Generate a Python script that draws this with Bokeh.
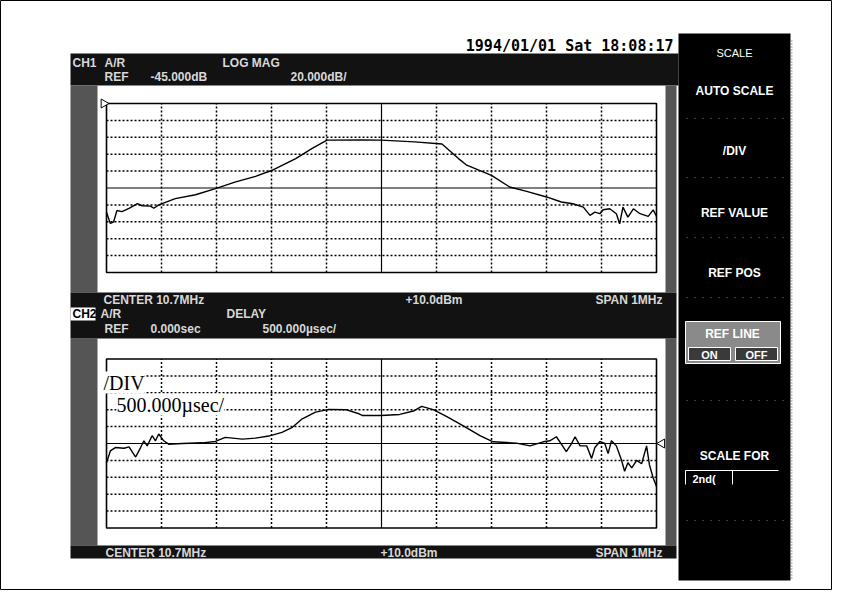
import math
from bokeh.plotting import figure
from bokeh.models import Range1d, Label
from bokeh.embed import file_html
from bokeh.resources import INLINE

# ---------------- data (in screen divisions) ----------------
# CH1 : LOG MAG trace, x in divisions 0..10, y in divisions from reference line
UPPER_X = [0.0, 0.07, 0.13, 0.19, 0.28, 0.41, 0.56, 0.65, 0.80, 0.86, 0.95, 1.25, 1.62,
           1.98, 2.35, 2.71, 3.01, 3.44, 3.74, 4.01, 4.65, 5.0, 5.6, 6.1, 6.4, 6.55, 7.0,
           7.33, 7.64, 8.0, 8.27, 8.48, 8.67, 8.79, 8.88, 8.97, 9.03, 9.15, 9.27, 9.33,
           9.39, 9.48, 9.58, 9.7, 9.85, 9.94, 10.0]
UPPER_Y = [-1.43, -2.1, -2.0, -1.33, -1.4, -1.2, -0.93, -1.05, -1.07, -1.2, -1.0, -0.63,
           -0.4, -0.04, 0.36, 0.69, 1.05, 1.74, 2.34, 2.83, 2.85, 2.83, 2.73, 2.6, 1.74,
           1.35, 0.75, 0.06, -0.2, -0.53, -0.83, -0.93, -1.13, -1.62, -1.43, -1.52, -1.29,
           -1.23, -1.52, -2.12, -1.13, -1.72, -1.23, -1.52, -1.68, -1.29, -1.68]

# CH2 : DELAY trace
LOWER_X = [0.0, 0.07, 0.16, 0.32, 0.41, 0.53, 0.62, 0.68, 0.74, 0.83, 0.89, 0.95, 1.04,
           1.13, 1.38, 1.74, 1.98, 2.16, 2.47, 2.71, 2.95, 3.19, 3.38, 3.56, 3.8, 4.04,
           4.35, 4.59, 4.65, 5.0, 5.33, 5.58, 5.73, 5.94, 6.18, 6.48, 6.79, 7.03, 7.27,
           7.45, 7.7, 7.94, 8.06, 8.18, 8.27, 8.36, 8.45, 8.52, 8.61, 8.73, 8.82, 8.88,
           8.97, 9.06, 9.12, 9.18, 9.27, 9.36, 9.42, 9.48, 9.55, 9.64, 9.73, 9.82, 9.87,
           9.94, 10.0]
LOWER_Y = [-1.14, -0.44, -0.24, -0.28, -0.2, -0.8, -0.24, 0.16, -0.14, 0.46, 0.16, 0.56,
           0.16, -0.04, 0.0, 0.04, 0.12, 0.36, 0.26, 0.32, 0.44, 0.66, 0.96, 1.46, 1.86,
           2.02, 2.0, 1.76, 1.66, 1.66, 1.72, 1.92, 2.2, 2.0, 1.6, 1.06, 0.46, 0.1, 0.06,
           0.02, -0.14, 0.1, 0.16, 0.4, -0.04, -0.48, -0.04, 0.4, -0.14, -0.14, -0.88,
           -0.24, 0.12, 0.0, -0.6, 0.16, -0.14, -0.94, -1.64, -1.14, -1.44, -1.0, -1.2,
           -0.14, -1.24, -2.04, -2.54]

GRID_X = [0, 1, 2, 3, 4, 5, 6, 7, 8, 9, 10]
GRID_Y = [-5, -4, -3, -2, -1, 0, 1, 2, 3, 4, 5]
UPPER_REF_POS = [5]
LOWER_REF_POS = [0]

DATE_TEXT = "1994/01/01 Sat 18:08:17"
CH1_LINE1 = ["CH1", "A/R", "LOG MAG"]
CH1_LINE2 = ["REF", "-45.000dB", "20.000dB/"]
CH2_LINE1 = ["CH2", "A/R", "DELAY"]
CH2_LINE2 = ["REF", "0.000sec", "500.000\u00b5sec/"]
FOOT = ["CENTER 10.7MHz", "+10.0dBm", "SPAN 1MHz"]
MENU = ["AUTO SCALE", "/DIV", "REF VALUE", "REF POS"]
OVERLAY = ["/DIV", "500.000\u00b5sec/"]

# ---------------- layout constants (screen pixels) ----------------
W, H = 832, 590
X0, X1, Y0, Y1 = 0, W, 0, H
BOX_L, BOX_R = 106, 656
DIVX = (BOX_R - BOX_L) / 10.0
DIVY = 16.9
U_C = 187.5
L_C = 443.0

p = figure(width=W, height=H, output_backend="svg", toolbar_location=None,
           x_range=Range1d(X0, X1), y_range=Range1d(Y1, Y0),
           x_axis_type=None, y_axis_type=None, min_border=0,
           background_fill_color="white", border_fill_color="white")
p.grid.visible = False
p.outline_line_color = "black"
p.outline_line_width = 1

p.extra_x_ranges = {"dx": Range1d((X0 - BOX_L) / DIVX, (X1 - BOX_L) / DIVX)}
p.extra_y_ranges = {"uy": Range1d((U_C - Y1) / DIVY, (U_C - Y0) / DIVY),
                    "ly": Range1d((L_C - Y1) / DIVY, (L_C - Y0) / DIVY)}

BAND = "#121212"
STRIP = "#555555"

# screen frame bands
p.quad(left=[70], right=[678], top=[53], bottom=[85], fill_color=BAND, line_color=None)
p.quad(left=[70, 70], right=[97, 97], top=[85, 338], bottom=[292, 545], fill_color=STRIP, line_color=None)
p.quad(left=[665, 665], right=[676, 676], top=[85, 338], bottom=[292, 545], fill_color=STRIP, line_color=None)
p.quad(left=[70], right=[676], top=[292], bottom=[338], fill_color=BAND, line_color=None)
p.quad(left=[70], right=[95], top=[307], bottom=[320], fill_color="white", line_color=None)
p.quad(left=[70], right=[676], top=[545], bottom=[558], fill_color=BAND, line_color=None)

# right menu panel
p.quad(left=[678], right=[790], top=[33], bottom=[580], fill_color="black", line_color=None)
p.segment(x0=[791], x1=[791], y0=[40], y1=[580], line_color="#888888", line_width=2, line_dash="1 2")
for yy in [118, 177, 237, 297, 400, 520]:
    p.segment(x0=[686], x1=[784], y0=[yy], y1=[yy], line_color="#777777", line_width=1, line_dash="1 7")


def txt(x, y, s, size="12px", color="#d8d8d8", style="bold", align="left", font="Liberation Sans", bg=None):
    lab = Label(x=x, y=y, text=s, text_font=font, text_font_size=size, text_color=color,
                text_font_style=style, text_align=align, text_baseline="middle")
    if bg is not None:
        lab.background_fill_color = bg
    p.add_layout(lab)


# date
txt(673, 45, DATE_TEXT, size="15px", color="black", align="right", font="DejaVu Sans Mono")

# header texts
txt(72, 62, CH1_LINE1[0]); txt(104, 62, CH1_LINE1[1]); txt(222, 62, CH1_LINE1[2])
txt(104, 76, CH1_LINE2[0]); txt(150, 76, CH1_LINE2[1]); txt(290, 76, CH1_LINE2[2])
txt(103, 299, FOOT[0]); txt(405, 299, FOOT[1]); txt(662, 299, FOOT[2], align="right")
txt(72, 313, CH2_LINE1[0], color="black"); txt(100, 313, CH2_LINE1[1]); txt(226, 313, CH2_LINE1[2])
txt(104, 328, CH2_LINE2[0]); txt(150, 328, CH2_LINE2[1]); txt(262, 328, CH2_LINE2[2])
txt(105, 552, FOOT[0]); txt(380, 552, FOOT[1]); txt(662, 552, FOOT[2], align="right")

# menu texts
txt(734, 52, "SCALE", size="11px", color="white", style="normal", align="center")
for yy, s in zip([90, 150, 212, 272], MENU):
    txt(734, yy, s, size="12px", color="white", align="center")
p.quad(left=[685], right=[780], top=[321], bottom=[363], fill_color="#8a8a8a", line_color="white", line_width=1)
txt(732, 333, "REF LINE", size="12px", color="white", align="center")
p.quad(left=[688, 735], right=[730, 777], top=[347, 347], bottom=[360, 360], fill_color="#3a3a3a", line_color="white", line_width=1)
txt(709, 354, "ON", size="11px", color="white", align="center")
txt(756, 354, "OFF", size="11px", color="white", align="center")
txt(734, 455, "SCALE FOR", size="12px", color="white", align="center")
p.segment(x0=[685, 685, 732], x1=[778, 685, 732], y0=[470, 470, 470], y1=[470, 484, 484], line_color="white", line_width=1)
txt(692, 478, "2nd(", size="11px", color="white")

# plots
GRID_DASH = "2 2"
for yname in ["uy", "ly"]:
    inner_x = [g for g in GRID_X if g not in (GRID_X[0], GRID_X[-1], 5)]
    inner_y = [g for g in GRID_Y if g not in (GRID_Y[0], GRID_Y[-1], 0)]
    p.segment(x0=inner_x, x1=inner_x, y0=[GRID_Y[0]] * len(inner_x), y1=[GRID_Y[-1]] * len(inner_x),
              line_color="black", line_width=1.5, line_dash=GRID_DASH, x_range_name="dx", y_range_name=yname)
    p.segment(x0=[GRID_X[0]] * len(inner_y), x1=[GRID_X[-1]] * len(inner_y), y0=inner_y, y1=inner_y,
              line_color="black", line_width=1.5, line_dash=GRID_DASH, x_range_name="dx", y_range_name=yname)
    p.segment(x0=[5, GRID_X[0]], x1=[5, GRID_X[-1]], y0=[GRID_Y[0], 0], y1=[GRID_Y[-1], 0],
              line_color="black", line_width=1.2, x_range_name="dx", y_range_name=yname)
    p.quad(left=[GRID_X[0]], right=[GRID_X[-1]], bottom=[GRID_Y[0]], top=[GRID_Y[-1]],
           fill_color=None, line_color="black", line_width=1.6, x_range_name="dx", y_range_name=yname)

p.line(UPPER_X, UPPER_Y, line_color="black", line_width=1.4, x_range_name="dx", y_range_name="uy")
p.line(LOWER_X, LOWER_Y, line_color="black", line_width=1.4, x_range_name="dx", y_range_name="ly")

p.scatter(x=[-0.05], y=UPPER_REF_POS, marker="triangle", angle=-math.pi / 2, size=9,
          fill_color="white", line_color="black", x_range_name="dx", y_range_name="uy")
p.scatter(x=[10.1], y=LOWER_REF_POS, marker="triangle", angle=math.pi / 2, size=9,
          fill_color="white", line_color="black", x_range_name="dx", y_range_name="ly")

# overlay text in lower plot
txt(103, 382, OVERLAY[0], size="20px", color="black", style="normal", font="Liberation Serif", bg="white")
txt(116, 404, OVERLAY[1], size="20px", color="black", style="normal", font="Liberation Serif", bg="white")

open("out.html", "w").write(file_html(p, INLINE))
